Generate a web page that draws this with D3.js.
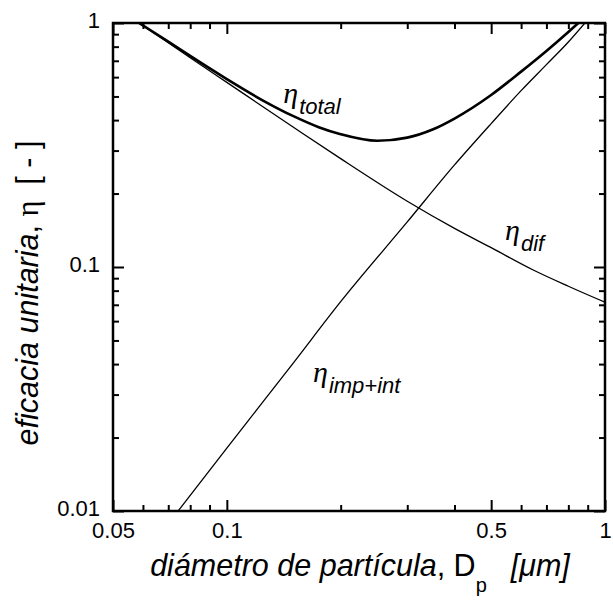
<!DOCTYPE html>
<html lang="es">
<head>
<meta charset="UTF-8">
<title>Eficacia unitaria</title>
<script src="https://d3js.org/d3.v7.min.js"></script>
<style>
  body { margin: 0; background: #fff; }
  text { font-family: "Liberation Sans", Arial, sans-serif; fill: #000; }
  .domain { display: none; }
  .tick line { stroke: #000; stroke-width: 2px; }
</style>
</head>
<body>
<svg width="613" height="601"></svg>
<script>
// particle diameter (um) and unit efficiency for each curve
var dDif   = [0.0586, 0.07, 0.08, 0.1, 0.15, 0.2, 0.3, 0.4, 0.5, 0.646, 0.8, 1.0];
var etaDif = [1.0, 0.83, 0.721, 0.571, 0.374, 0.278, 0.186, 0.144, 0.120, 0.0972, 0.0834, 0.0717];

var dImp   = [0.0743, 0.1, 0.15, 0.2, 0.3, 0.4, 0.5, 0.6, 0.7, 0.8, 0.885];
var etaImp = [0.01, 0.0181, 0.0405, 0.0721, 0.153, 0.262, 0.387, 0.528, 0.675, 0.836, 1.0];

var dTot   = [0.0586, 0.07, 0.08, 0.1, 0.125, 0.15, 0.175, 0.2, 0.25, 0.3, 0.35, 0.4, 0.5, 0.6, 0.7, 0.8, 0.85];
var etaTot = [1.0, 0.839, 0.733, 0.589, 0.480, 0.415, 0.374, 0.350, 0.329, 0.339, 0.366, 0.406, 0.507, 0.632, 0.768, 0.919, 1.0];

// axis ticks
var xMajor = [0.05, 0.1, 0.5, 1];
var xMajorLabels = ["0.05", "0.1", "0.5", "1"];
var xMinor = [0.06, 0.07, 0.08, 0.09, 0.2, 0.3, 0.4, 0.6, 0.7, 0.8, 0.9];
var yMajor = [0.01, 0.1, 1];
var yMajorLabels = ["0.01", "0.1", "1"];
var yMinor = [0.02, 0.03, 0.04, 0.05, 0.06, 0.07, 0.08, 0.09, 0.2, 0.3, 0.4, 0.5, 0.6, 0.7, 0.8, 0.9];

// curve labels: subscript, anchor (d, eta)
var labelText = ["total", "dif", "imp+int"];
var labelD    = [0.141, 0.544, 0.169];
var labelEta  = [0.47, 0.129, 0.0338];

var svg = d3.select("svg");
var mLeft = 113, mRight = 605, mTop = 23, mBottom = 511;

var x = d3.scaleLog().domain([0.05, 1]).range([mLeft, mRight]);
var y = d3.scaleLog().domain([0.01, 1]).range([mBottom, mTop]);

svg.append("clipPath").attr("id", "clip")
  .append("rect").attr("x", mLeft).attr("y", mTop)
  .attr("width", mRight - mLeft).attr("height", mBottom - mTop);

var line = d3.line()
  .x(function(d) { return x(d[0]); })
  .y(function(d) { return y(d[1]); })
  .curve(d3.curveMonotoneX);

function pairs(a, b) { return a.map(function(v, i) { return [v, b[i]]; }); }

var plot = svg.append("g").attr("clip-path", "url(#clip)");
plot.append("path").datum(pairs(dDif, etaDif)).attr("d", line)
  .attr("fill", "none").attr("stroke", "#000").attr("stroke-width", 1.3);
plot.append("path").datum(pairs(dImp, etaImp)).attr("d", line)
  .attr("fill", "none").attr("stroke", "#000").attr("stroke-width", 1.3);
plot.append("path").datum(pairs(dTot, etaTot)).attr("d", line)
  .attr("fill", "none").attr("stroke", "#000").attr("stroke-width", 2.6);

// ticks, pointing inward on all four sides
function fmt(vals, labels) {
  return function(d) { return labels[vals.indexOf(d)]; };
}
svg.append("g").attr("transform", "translate(0," + mBottom + ")")
  .call(d3.axisBottom(x).tickValues(xMajor).tickSize(-11).tickPadding(11)
    .tickFormat(fmt(xMajor, xMajorLabels)))
  .selectAll("text").style("font-size", "22px");
svg.append("g").attr("transform", "translate(0," + mBottom + ")")
  .call(d3.axisBottom(x).tickValues(xMinor).tickSize(-6).tickFormat(""));
svg.append("g").attr("transform", "translate(0," + mTop + ")")
  .call(d3.axisTop(x).tickValues(xMajor).tickSize(-11).tickFormat(""));
svg.append("g").attr("transform", "translate(0," + mTop + ")")
  .call(d3.axisTop(x).tickValues(xMinor).tickSize(-6).tickFormat(""));

svg.append("g").attr("transform", "translate(" + mLeft + ",0)")
  .call(d3.axisLeft(y).tickValues(yMajor).tickSize(-11).tickPadding(13)
    .tickFormat(fmt(yMajor, yMajorLabels)))
  .selectAll("text").style("font-size", "22px").attr("dy", "0.2em");
svg.append("g").attr("transform", "translate(" + mLeft + ",0)")
  .call(d3.axisLeft(y).tickValues(yMinor).tickSize(-6).tickFormat(""));
svg.append("g").attr("transform", "translate(" + mRight + ",0)")
  .call(d3.axisRight(y).tickValues(yMajor).tickSize(-11).tickFormat(""));
svg.append("g").attr("transform", "translate(" + mRight + ",0)")
  .call(d3.axisRight(y).tickValues(yMinor).tickSize(-6).tickFormat(""));

// frame
svg.append("rect").attr("x", mLeft).attr("y", mTop)
  .attr("width", mRight - mLeft).attr("height", mBottom - mTop)
  .attr("fill", "none").attr("stroke", "#000").attr("stroke-width", 2.5);

// curve labels
labelText.forEach(function(t, i) {
  var g = svg.append("text")
    .attr("x", x(labelD[i])).attr("y", y(labelEta[i]));
  g.append("tspan").text("η")
    .style("font-family", "'Liberation Serif', serif")
    .style("font-style", "italic").style("font-size", "30px");
  g.append("tspan").text(t).attr("dy", 11).attr("dx", 1)
    .style("font-style", "italic").style("font-size", "22px");
});

// x axis title
var xt = svg.append("text").attr("x", 360).attr("y", 576)
  .attr("text-anchor", "middle").style("font-size", "30.5px");
xt.append("tspan").text("diámetro de partícula").style("font-style", "italic");
xt.append("tspan").text(", D");
xt.append("tspan").text("p").attr("dy", 16).style("font-size", "20px");
xt.append("tspan").text("[μm]").attr("dy", -16).attr("dx", 24).style("font-style", "italic");

// y axis title
var yt = svg.append("text")
  .attr("transform", "translate(38,293) rotate(-90)")
  .attr("text-anchor", "middle").style("font-size", "30.5px");
yt.append("tspan").text("eficacia unitaria").style("font-style", "italic");
yt.append("tspan").text(", ");
yt.append("tspan").text("η").style("font-family", "'Liberation Serif', serif");
yt.append("tspan").text("[ - ]").attr("dx", 16);
</script>
</body>
</html>
